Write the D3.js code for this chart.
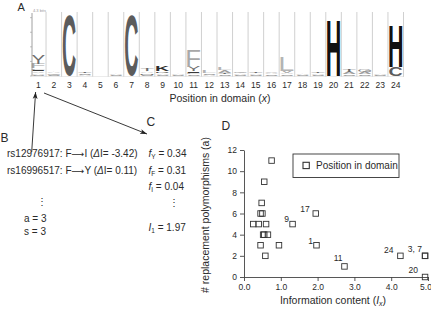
<!DOCTYPE html>
<html><head><meta charset="utf-8">
<script src="https://cdn.jsdelivr.net/npm/d3@7/dist/d3.min.js"></script>
<style>body{margin:0;background:#fff} svg{display:block}</style>
</head><body>
<svg id="chart" width="431" height="310"></svg>
<script>
// ---------------- DATA ----------------
const positionLabels = ["1","2","3","4","5","6","7","8","9","10","11","12","13","14","15","16","17","18","19","20","21","22","23","24"];
// sequence-logo stacks (bottom -> top), [residue, bits]
const logoStacks = [
  [["S",0.1],["A",0.12],["V",0.1],["I",0.1],["L",0.12],["F",0.3],["Y",0.6]],
  [["S",0.1],["G",0.1],["A",0.08]],
  [["C",4.15]],
  [["A",0.1],["S",0.1],["T",0.08]],
  [],
  [["S",0.08],["A",0.1]],
  [["C",4.15]],
  [["S",0.1],["N",0.1],["A",0.12],["T",0.13]],
  [["S",0.1],["A",0.1],["R",0.12],["K",0.38]],
  [["S",0.08],["A",0.06]],
  [["S",0.12],["L",0.12],["I",0.1],["Y",0.3],["F",1.1]],
  [["A",0.1],["S",0.1],["L",0.15]],
  [["S",0.12],["T",0.12],["A",0.15],["L",0.16]],
  [["S",0.1],["A",0.1],["G",0.08]],
  [["S",0.1],["A",0.1],["T",0.08]],
  [["S",0.12],["A",0.12],["V",0.12]],
  [["S",0.12],["A",0.12],["V",0.13],["L",0.95]],
  [["S",0.1],["A",0.1]],
  [["S",0.1],["A",0.1],["T",0.1]],
  [["H",3.84]],
  [["S",0.12],["A",0.15],["T",0.16]],
  [["S",0.12],["A",0.15],["G",0.16]],
  [["S",0.1],["A",0.1]],
  [["C",0.62],["H",2.8]]
];
const logoBitTicks = [0,1,2,3,4];

// panel D scatter
const infoContent     = [0.75, 0.55, 0.48, 0.45, 0.5, 0.25, 0.4, 0.6, 1.32, 1.95, 0.52, 0.55, 0.65, 0.45, 0.95, 1.97, 0.58, 2.73, 4.25, 4.92, 4.92, 4.92];
const replacementPoly = [11,   9,    7,    6,    6,   5,    5,   5,   5,    6,    4,    4,    4,    3,    3,    3,    2,    1,    2,    2,    2,    0];
const pointLabels     = ["",   "",   "",   "",   "",  "",   "",  "",  "9",  "17", "",   "",   "",   "",   "",   "1",  "",   "11", "24", "3, 7", "", "20"];
const xTicks = [0,1,2,3,4,5];
const yTicks = [0,2,4,6,8,10,12];

// panel B / C texts
const snpIds   = ["rs12976917", "rs16996517"];
const snpFrom  = ["F", "F"];
const snpTo    = ["I", "Y"];
const snpDelta = ["-3.42", "0.11"];
const countNames  = ["a", "s"];
const countValues = [3, 3];
const freqResidues = ["Y", "F", "I"];
const freqValues   = ["0.34", "0.31", "0.04"];
const infoValue1   = "1.97";

// ---------------- DRAW ----------------
const FONT = "'Liberation Sans', Arial, Helvetica, sans-serif";
const TXT = "#2a2a2a";
const svg = d3.select("#chart").style("font-family", FONT);

const letterColors = {C:"#5c5c5c",H:"#111",F:"#a8a8a8",L:"#b4b4b4",Y:"#6e6e6e",K:"#2e2e2e",
  S:"#8c8c8c",A:"#9c9c9c",T:"#6a6a6a",G:"#888",N:"#777",R:"#555",I:"#3a3a3a",V:"#a0a0a0",M:"#666"};
const boldLetters = new Set(["C","H","K"]);

const canvas = document.createElement("canvas");
const ctx = canvas.getContext("2d");
function drawLetter(g, letter, x0, w, yTop, h, color) {
  if (h <= 0.05) return;
  const weight = boldLetters.has(letter) ? "bold" : "normal";
  ctx.font = `${weight} 100px 'Liberation Sans'`;
  const m = ctx.measureText(letter);
  const gw = m.actualBoundingBoxLeft + m.actualBoundingBoxRight;
  const gh = m.actualBoundingBoxAscent + m.actualBoundingBoxDescent;
  g.append("text").text(letter)
    .attr("font-family", FONT).attr("font-weight", weight).attr("font-size", 100)
    .attr("fill", color)
    .attr("transform", `translate(${x0},${yTop}) scale(${w/gw},${h/gh}) translate(${m.actualBoundingBoxLeft},${m.actualBoundingBoxAscent})`);
}

// ---- Panel A : logo
const logoX = d3.scaleLinear().domain([0.5, 24.5]).range([30.5, 403.5]);
const logoY = d3.scaleLinear().domain([0, 4.32]).range([76, 13]);
const gA = svg.append("g");

// column separators
gA.selectAll("line.sep").data(positionLabels.slice(1).concat(["end"])).join("line")
  .attr("x1", (d,i) => logoX(i + 1.5)).attr("x2", (d,i) => logoX(i + 1.5))
  .attr("y1", logoY(4.32) - 1).attr("y2", logoY(0) + 1)
  .attr("stroke", "#c4c4c4").attr("stroke-width", 0.8);

logoStacks.forEach((stack, i) => {
  const p = i + 1;
  let cum = 0;
  const x0 = logoX(p - 0.5) + 1.3, w = logoX(p + 0.5) - logoX(p - 0.5) - 2.6;
  stack.forEach(([res, bits]) => {
    const yB = logoY(cum), yT = logoY(cum + bits);
    drawLetter(gA, res, x0, w, yT, yB - yT, letterColors[res] || "#888");
    cum += bits;
  });
});

// logo y axis
gA.append("line").attr("x1", 32).attr("x2", 32).attr("y1", logoY(4.32)).attr("y2", logoY(0))
  .attr("stroke", "#888").attr("stroke-width", 0.8);
gA.selectAll("line.bt").data(logoBitTicks).join("line")
  .attr("x1", 30).attr("x2", 32).attr("y1", d => logoY(d)).attr("y2", d => logoY(d))
  .attr("stroke", "#999").attr("stroke-width", 0.6);
gA.append("text").attr("x", 33).attr("y", 12).attr("font-size", 4).attr("fill", "#999").text("4.3 bits");
gA.append("line").attr("x1", 32).attr("x2", logoX(24.5)).attr("y1", 76.5).attr("y2", 76.5)
  .attr("stroke", "#ddd").attr("stroke-width", 0.6);

// position labels
gA.selectAll("text.pos").data(positionLabels).join("text")
  .attr("x", (d,i) => logoX(i + 1)).attr("y", 88.3)
  .attr("text-anchor", "middle").attr("font-size", 8.5).attr("fill", TXT).text(d => d);

const xl = gA.append("text").attr("x", 220).attr("y", 101.5).attr("text-anchor", "middle")
  .attr("font-size", 10.5).attr("fill", TXT);
xl.append("tspan").text("Position in domain (");
xl.append("tspan").attr("font-style", "italic").text("x");
xl.append("tspan").text(")");

// panel letters
const panelLabel = (t, x, y, fs) => svg.append("text").attr("x", x).attr("y", y)
  .attr("font-size", fs).attr("fill", TXT).text(t);
panelLabel("A", 17.5, 10.5, 11);
panelLabel("B", 0.5, 141.5, 12);
panelLabel("C", 146.5, 126, 12);
panelLabel("D", 221.5, 130, 12);

// arrows
const defs = svg.append("defs");
defs.append("marker").attr("id", "ah").attr("viewBox", "0 0 10 10").attr("refX", 10).attr("refY", 5)
  .attr("markerWidth", 7).attr("markerHeight", 7).attr("orient", "auto").attr("markerUnits", "userSpaceOnUse")
  .append("path").attr("d", "M0,1.5 L10,5 L0,8.5 L2.5,5 Z").attr("fill", "#222");
svg.append("line").attr("x1", 31.7).attr("y1", 152).attr("x2", 35.6).attr("y2", 92)
  .attr("stroke", "#222").attr("stroke-width", 0.9).attr("marker-end", "url(#ah)");
svg.append("line").attr("x1", 44).attr("y1", 93).attr("x2", 147).attr("y2", 134)
  .attr("stroke", "#222").attr("stroke-width", 0.9).attr("marker-end", "url(#ah)");

// ---- Panel B
const gB = svg.append("g").attr("font-size", 10).attr("fill", TXT);
snpIds.forEach((id, i) => {
  const t = gB.append("text").attr("x", 7).attr("y", 157 + i * 16.5);
  t.append("tspan").text(`${id}: ${snpFrom[i]}`);
  t.append("tspan").attr("font-family", "'DejaVu Sans'").attr("font-size", 9).text("⟶");
  t.append("tspan").text(`${snpTo[i]} (`);
  t.append("tspan").attr("font-style", "italic").text("Δ");
  t.append("tspan").text(`I= ${snpDelta[i]})`);
});
gB.append("text").attr("x", 41.5).attr("y", 205).attr("text-anchor", "middle").text("⋮");
countNames.forEach((n, i) => {
  gB.append("text").attr("x", 24).attr("y", 222 + i * 12.5).text(`${n} = ${countValues[i]}`);
});

// ---- Panel C
const gC = svg.append("g").attr("font-size", 10).attr("fill", TXT);
freqResidues.forEach((r, i) => {
  const t = gC.append("text").attr("x", 148.5).attr("y", 157 + i * 16.5);
  t.append("tspan").attr("font-style", "italic").text("f");
  t.append("tspan").attr("font-size", 6.5).attr("dy", 2).text(r);
  t.append("tspan").attr("dy", -2).text(` = ${freqValues[i]}`);
});
gC.append("text").attr("x", 173.5).attr("y", 206).attr("text-anchor", "middle").text("⋮");
{
  const t = gC.append("text").attr("x", 148.5).attr("y", 230.5);
  t.append("tspan").attr("font-style", "italic").text("I");
  t.append("tspan").attr("font-size", 6.5).attr("dy", 2).text("1");
  t.append("tspan").attr("dy", -2).text(` = ${infoValue1}`);
}

// ---- Panel D
const xS = d3.scaleLinear().domain([0, 5]).range([244, 428]);
const yS = d3.scaleLinear().domain([0, 12]).range([277, 150]);
const gD = svg.append("g");

const yAx = gD.append("g").attr("transform", `translate(${xS(0)},0)`)
  .call(d3.axisLeft(yS).tickValues(yTicks).tickSize(4).tickSizeOuter(0).tickPadding(3));
const xAx = gD.append("g").attr("transform", `translate(0,${yS(0)})`)
  .call(d3.axisBottom(xS).tickValues(xTicks).tickSize(4).tickSizeOuter(0).tickPadding(3));
[yAx, xAx].forEach(a => {
  a.selectAll("path,line").attr("stroke", "#444").attr("stroke-width", 0.9);
  a.selectAll("text").attr("font-family", FONT).attr("font-size", 8.5).attr("fill", TXT);
});
xAx.selectAll(".tick").filter(d => d === 5).select("text").attr("dx", -2.5);

const sq = 5.5;
gD.selectAll("rect.pt").data(infoContent).join("rect")
  .attr("x", (d) => xS(d) - sq/2).attr("y", (d,i) => yS(replacementPoly[i]) - sq/2)
  .attr("width", sq).attr("height", sq)
  .attr("fill", "none").attr("stroke", "#333").attr("stroke-width", 0.9);

const labelOffsets = {"9":[-3.5,-2], "17":[-6,-1.5], "1":[-3.5,-1.5], "11":[-2,-5], "24":[-7,-3], "3, 7":[-3,-4], "20":[-7,-4]};
gD.selectAll("text.pl").data(pointLabels).join("text")
  .filter(d => d !== "")
  .attr("x", function(d) { const i = pointLabels.indexOf(d); return xS(infoContent[i]) + labelOffsets[d][0]; })
  .attr("y", function(d) { const i = pointLabels.indexOf(d); return yS(replacementPoly[i]) + labelOffsets[d][1]; })
  .attr("text-anchor", "end").attr("font-size", 8.5).attr("fill", TXT).text(d => d);

// legend
gD.append("rect").attr("x", 293).attr("y", 154).attr("width", 106).attr("height", 23.5)
  .attr("fill", "#fff").attr("stroke", "#333").attr("stroke-width", 0.9);
gD.append("rect").attr("x", 303).attr("y", 162.3).attr("width", 6.3).attr("height", 6.3)
  .attr("fill", "none").attr("stroke", "#333").attr("stroke-width", 1.1);
gD.append("text").attr("x", 316).attr("y", 169).attr("font-size", 10).attr("fill", TXT).text("Position in domain");

// axis titles
gD.append("text").attr("transform", "translate(209,215) rotate(-90)").attr("text-anchor", "middle")
  .attr("font-size", 10.5).attr("fill", TXT).text("# replacement polymorphisms (a)");
const xt = gD.append("text").attr("x", 333).attr("y", 304).attr("text-anchor", "middle")
  .attr("font-size", 10.5).attr("fill", TXT);
xt.append("tspan").text("Information content (");
xt.append("tspan").attr("font-style", "italic").text("I");
xt.append("tspan").attr("font-style", "italic").attr("font-size", 7).attr("dy", 2).text("x");
xt.append("tspan").attr("dy", -2).text(")");
</script>
</body></html>
